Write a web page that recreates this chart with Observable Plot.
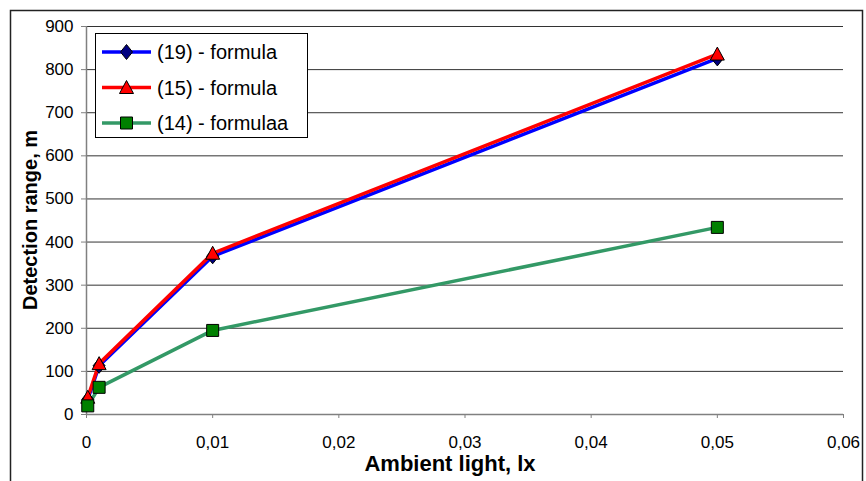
<!DOCTYPE html>
<html>
<head>
<meta charset="utf-8">
<script src="https://cdn.jsdelivr.net/npm/d3@7"></script>
<script src="https://cdn.jsdelivr.net/npm/@observablehq/plot@0.6"></script>
<style>
  html, body { margin: 0; padding: 0; background: #fff; }
  #chart { width: 866px; height: 481px; overflow: hidden; }
</style>
</head>
<body>
<div id="chart"></div>
<script>
// ---- data ----
const xValues = [0.0001, 0.001, 0.01, 0.05];
const series19 = [35, 113, 367, 826];
const series15 = [40, 118, 374, 836];
const series14 = [20, 63, 195, 434];
const seriesNames = ["(19) - formula", "(15) - formula", "(14) - formulaa"];
const xTicks = [0, 0.01, 0.02, 0.03, 0.04, 0.05, 0.06];
const yTicks = [0, 100, 200, 300, 400, 500, 600, 700, 800, 900];
const xTitle = "Ambient light, lx";
const yTitle = "Detection range, m";

// ---- styles ----
const lineColors = ["#0000FF", "#FF0000", "#339966"];
const markerFills = ["#000080", "#FF0000", "#008000"];

const diamondSym = { draw(ctx) { ctx.moveTo(0, -7.5); ctx.lineTo(6, 0); ctx.lineTo(0, 7.5); ctx.lineTo(-6, 0); ctx.closePath(); } };
const triangleSym = { draw(ctx) { ctx.moveTo(0, -7); ctx.lineTo(7, 6); ctx.lineTo(-7, 6); ctx.closePath(); } };
const squareSym = { draw(ctx) { ctx.moveTo(-6, -6); ctx.lineTo(6, -6); ctx.lineTo(6, 6); ctx.lineTo(-6, 6); ctx.closePath(); } };
const symbols = [diamondSym, triangleSym, squareSym];

const allSeries = [series19, series15, series14];
const tables = allSeries.map((vals, i) => xValues.map((x, j) => ({ x, y: vals[j], s: seriesNames[i] })));

const fmt = d => d === 0 ? "0" : String(d).replace(".", ",");

const marks = [
  Plot.ruleY(yTicks.filter(d => d > 0), { stroke: "#333", strokeWidth: 1 }),
  Plot.ruleX([0], { stroke: "#808080", strokeWidth: 1.5 }),
  Plot.ruleY([0], { stroke: "#808080", strokeWidth: 1.5 }),
  Plot.axisX({ ticks: xTicks, tickFormat: fmt, tickSize: 4, tickPadding: 17, fontSize: 17, stroke: "#808080", label: null }),
  Plot.axisY({ ticks: yTicks, tickSize: 5, tickPadding: 8, fontSize: 17, stroke: "#808080", label: null }),
];
tables.forEach((t, i) => {
  marks.push(Plot.line(t, { x: "x", y: "y", stroke: lineColors[i], strokeWidth: 3.5 }));
});
tables.forEach((t, i) => {
  marks.push(Plot.dot(t, { x: "x", y: "y", symbol: () => symbols[i], fill: markerFills[i], stroke: "#000", strokeWidth: 1, r: 6 }));
});

const svgEl = Plot.plot({
  width: 866,
  height: 481,
  marginLeft: 86,
  marginRight: 23,
  marginTop: 26,
  marginBottom: 67,
  style: { fontFamily: "'Liberation Sans', Arial, sans-serif", fontSize: "17px", background: "#fff", color: "#000" },
  x: { domain: [0, 0.06], type: "linear" },
  y: { domain: [0, 900], type: "linear" },
  symbol: { type: "identity" },
  marks
});
document.getElementById("chart").appendChild(svgEl);

// ---- decorations: border, titles, legend ----
const svg = d3.select(svgEl);
svg.append("rect")
  .attr("x", 10.5).attr("y", 10.5).attr("width", 852).attr("height", 520)
  .attr("fill", "none").attr("stroke", "#222").attr("stroke-width", 1.5);

svg.append("text")
  .attr("transform", "translate(30,220) rotate(-90)")
  .attr("text-anchor", "middle").attr("dominant-baseline", "central")
  .attr("font-weight", "bold").attr("font-size", 20).attr("fill", "#000")
  .text(yTitle);

svg.append("text")
  .attr("x", 450).attr("y", 463)
  .attr("text-anchor", "middle").attr("dominant-baseline", "central")
  .attr("font-weight", "bold").attr("font-size", 22).attr("fill", "#000")
  .text(xTitle);

const lg = svg.append("g").attr("text-anchor", "start");
lg.append("rect")
  .attr("x", 95.5).attr("y", 33.5).attr("width", 212).attr("height", 104)
  .attr("fill", "#fff").attr("stroke", "#000").attr("stroke-width", 1);
const symPaths = [
  "M0,-7.5L6,0L0,7.5L-6,0Z",
  "M0,-7L7,6L-7,6Z",
  "M-6,-6L6,-6L6,6L-6,6Z"
];
seriesNames.forEach((name, i) => {
  const cy = 52 + i * 35.5;
  lg.append("line").attr("x1", 102).attr("x2", 151).attr("y1", cy).attr("y2", cy)
    .attr("stroke", lineColors[i]).attr("stroke-width", 3.5);
  lg.append("path").attr("d", symPaths[i]).attr("transform", `translate(126.5,${cy})`)
    .attr("fill", markerFills[i]).attr("stroke", "#000").attr("stroke-width", 1);
  lg.append("text").attr("x", 157).attr("y", cy).attr("dominant-baseline", "central")
    .attr("text-anchor", "start")
    .attr("font-size", 20).attr("fill", "#000").text(name);
});
</script>
</body>
</html>
